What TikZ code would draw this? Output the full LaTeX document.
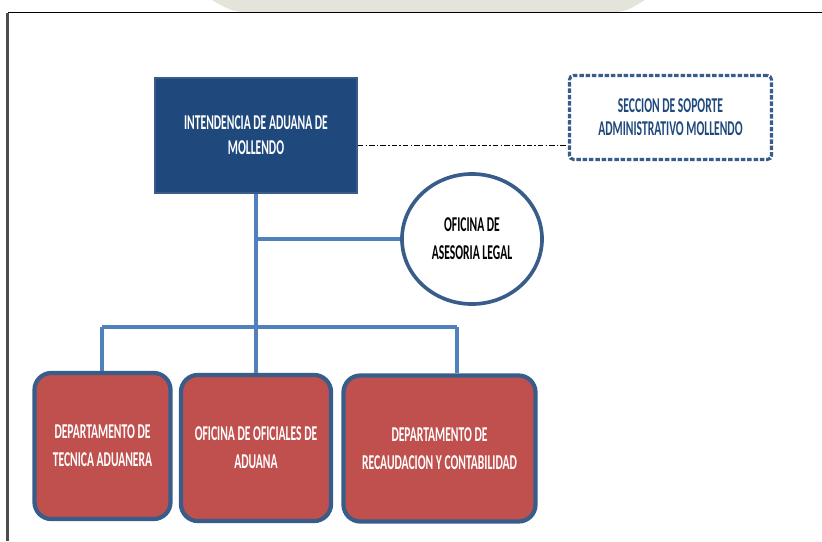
\documentclass[tikz,border=0pt]{standalone}
\usepackage{fontspec}
\newfontfamily\orgfont{Carlito}[FakeStretch=0.55]
\usetikzlibrary{positioning,shapes.geometric}
\definecolor{orgnavy}{HTML}{1F497D}
\definecolor{orgedge}{HTML}{385D8A}
\definecolor{orglink}{HTML}{4F81BD}
\definecolor{orgred}{HTML}{C0504D}
\definecolor{orgshade}{HTML}{E4E4DA}
\tikzset{
    orghead/.style={draw=orgedge, line width=1.2pt, fill=orgnavy, text=white, align=center, minimum width=5.05cm, minimum height=2.875cm, inner sep=0pt, font=\orgfont\bfseries\fontsize{15}{17.8}\selectfont},
    orgsupport/.style={draw=orgedge, line width=2.2pt, dash pattern=on 3.2pt off 1.3pt, rounded corners=3pt, fill=white, text=orgnavy, align=center, minimum width=5.05cm, minimum height=2.1cm, inner sep=0pt, font=\orgfont\bfseries\fontsize{15}{16.4}\selectfont},
    orglegal/.style={draw=orgedge, line width=2.6pt, ellipse, fill=white, text=black, align=center, minimum width=3.5cm, minimum height=3.25cm, inner sep=0pt, font=\orgfont\bfseries\fontsize{15}{19.9}\selectfont},
    orgdept/.style={draw=orgedge, line width=3pt, rounded corners=12pt, fill=orgred, text=white, align=center, minimum height=3.65cm, inner sep=0pt, font=\orgfont\bfseries\fontsize{15}{19.9}\selectfont},
    orgtrunk/.style={draw=orglink, line width=2.2pt},
    orgbranch/.style={draw=orglink, line width=3.4pt},
    orgdashdot/.style={draw=black, line width=0.8pt, dash pattern=on 4pt off 1.5pt on 1pt off 1.5pt}
}

\begin{document}
\begin{tikzpicture}[x=0.025cm, y=-0.025cm]
    \useasboundingbox (0,0) rectangle (822,541);

    % faint band behind the top edge
    \fill[orgshade] (212,0) -- (645,0) to[out=-150,in=0] (615,12) -- (245,12) to[out=180,in=-30] cycle;

    % page frame
    \draw[black, line width=1.1pt] (822,12.5) -- (7.5,12.5);
    \draw[black!70, line width=1.8pt] (7.5,12.5) -- (7.5,541);

    % units
    \node[orghead] (head) at (256,135.5) {INTENDENCIA DE ADUANA DE\\MOLLENDO};
    \node[orgsupport] (support) at (670.5,117.5) {SECCION DE SOPORTE\\ADMINISTRATIVO MOLLENDO};
    \node[orglegal] (legal) at (472,239) {OFICINA DE\\ASESORIA LEGAL};
    \node[orgdept, minimum width=3.4cm] (tecnica) at (102.5,446) {DEPARTAMENTO DE\\TECNICA ADUANERA};
    \node[orgdept, minimum width=3.75cm] (oficiales) at (256,448) {OFICINA DE OFICIALES DE\\ADUANA};
    \node[orgdept, minimum width=4.8cm] (recaud) at (439.5,448.5) {DEPARTAMENTO DE\\RECAUDACION Y CONTABILIDAD};

    \coordinate (busL) at (102,327);
    \coordinate (busR) at (457,327);

    % links
    \draw[orgdashdot] ([yshift=-0.26cm]head.east) -- ([yshift=-0.26cm]head.east -| support.west);
    \draw[orgbranch] (head.south |- legal.west) -- (legal.west);
    \draw[orgbranch] (busL) -- (busR);
    \draw[orgtrunk] (head.south) -- (oficiales.north);
    \draw[orgtrunk] (busL) -- (busL |- tecnica.north);
    \draw[orgtrunk] (busR) -- (busR |- recaud.north);
\end{tikzpicture}
\end{document}
